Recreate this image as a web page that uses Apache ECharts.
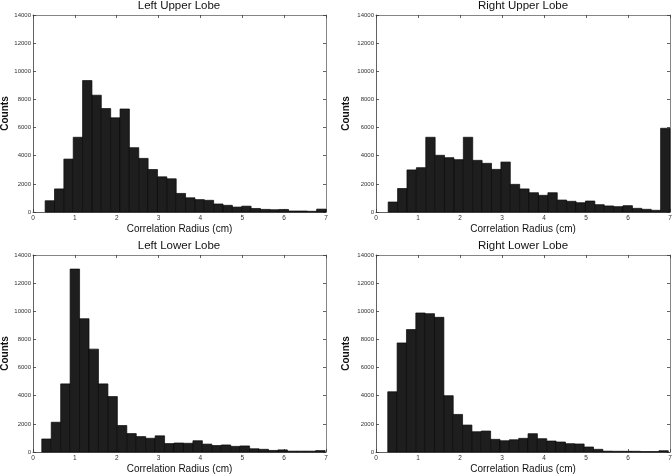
<!DOCTYPE html>
<html>
<head>
<meta charset="utf-8">
<script src="https://cdn.jsdelivr.net/npm/echarts@6/dist/echarts.min.js"></script>
<style>
  html, body { margin: 0; padding: 0; background: #fff; }
  #main { width: 672px; height: 476px; }
</style>
</head>
<body>
<div id="main"></div>
<script>
// 四个肺叶的相关半径直方图 (30 bins each)
const titles = ['Left Upper Lobe', 'Right Upper Lobe', 'Left Lower Lobe', 'Right Lower Lobe'];
const xTicks = [0, 1, 2, 3, 4, 5, 6, 7];
const yTicks = [0, 2000, 4000, 6000, 8000, 10000, 12000, 14000];

// histogram range [first edge, last edge] per lobe
const lulRange = [0.29, 7.0];
const rulRange = [0.29, 7.0];
const lllRange = [0.21, 6.98];
const rllRange = [0.28, 6.96];

const lulCounts = [800, 1640, 3760, 5310, 9340, 8300, 7350, 6690, 7320, 4570, 3810, 3020, 2500, 2360, 1320,
  1010, 880, 830, 570, 475, 350, 415, 250, 185, 160, 180, 70, 70, 50, 205];
const rulCounts = [710, 1670, 2990, 3150, 5310, 4030, 3860, 3720, 5310, 3670, 3460, 3030, 3550, 1965, 1640,
  1370, 1185, 1370, 850, 760, 660, 780, 520, 430, 380, 450, 260, 190, 120, 5950];
const lllCounts = [925, 2115, 4840, 13000, 9470, 7310, 4840, 3940, 1880, 1310, 1095, 975, 1150, 600, 640,
  620, 800, 560, 460, 500, 400, 430, 230, 190, 110, 150, 60, 60, 60, 100];
const rllCounts = [4280, 7750, 8700, 9880, 9830, 9570, 4000, 2670, 1915, 1440, 1490, 900, 800, 870, 970,
  1300, 945, 780, 710, 590, 570, 355, 190, 60, 50, 50, 50, 30, 30, 90];

const ranges = [lulRange, rulRange, lllRange, rllRange];
const counts = [lulCounts, rulCounts, lllCounts, rllCounts];

const chart = echarts.init(document.getElementById('main'), null, { renderer: 'canvas' });

const font = "'Liberation Sans', Arial, Helvetica, sans-serif";
const frame = '#3a3a3a';

// panel positions
const panels = [
  { left: 33, top: 15, width: 293, height: 197, cx: 179, ty: 0, ng: 22 },
  { left: 376, top: 15, width: 294, height: 197, cx: 523, ty: 0, ng: 25 },
  { left: 33, top: 255, width: 293, height: 197, cx: 179, ty: 240, ng: 22 },
  { left: 376, top: 255, width: 294, height: 197, cx: 523, ty: 240, ng: 25 }
];

// turn a range + counts into [x0, x1, count] bins
function toBins(range, vals) {
  const w = (range[1] - range[0]) / vals.length;
  return vals.map((v, i) => [range[0] + i * w, range[0] + (i + 1) * w, v]);
}

function renderBar(params, api) {
  const p0 = api.coord([api.value(0), api.value(2)]);
  const p1 = api.coord([api.value(1), 0]);
  return {
    type: 'rect',
    shape: { x: p0[0], y: p0[1], width: p1[0] - p0[0], height: p1[1] - p0[1] },
    style: { fill: '#1e1e1e', stroke: '#080808', lineWidth: 0.7 }
  };
}

const grid = [], xAxis = [], yAxis = [], series = [], title = [];

panels.forEach((p, i) => {
  grid.push({
    left: p.left, top: p.top, width: p.width, height: p.height, show: false,
    containLabel: false, outerBoundsMode: 'none'
  });
  title.push({
    text: titles[i], left: p.cx, top: p.ty, textAlign: 'center', padding: 0,
    textStyle: { fontFamily: font, fontSize: 11.5, fontWeight: 'normal', color: '#111' }
  });
  const tickStyle = { show: true, inside: true, length: 3, lineStyle: { color: frame, width: 0.8 } };
  xAxis.push({
    gridIndex: i, type: 'value', min: xTicks[0], max: xTicks[xTicks.length - 1], interval: 1,
    name: 'Correlation Radius (cm)', nameLocation: 'middle', nameGap: 12,
    nameTextStyle: { fontFamily: font, fontSize: 10, color: '#111' },
    axisLine: { show: true, onZero: false, lineStyle: { color: frame, width: 0.8 } },
    axisTick: tickStyle,
    axisLabel: { fontFamily: font, fontSize: 6.5, color: '#333', margin: 3 },
    splitLine: { show: false }
  });
  xAxis.push({
    gridIndex: i, type: 'value', position: 'top', min: xTicks[0], max: xTicks[xTicks.length - 1], interval: 1,
    axisLine: { show: true, onZero: false, lineStyle: { color: '#666', width: 0.8 } },
    axisTick: tickStyle, axisLabel: { show: false }, splitLine: { show: false }
  });
  yAxis.push({
    gridIndex: i, type: 'value', min: yTicks[0], max: yTicks[yTicks.length - 1], interval: 2000,
    name: 'Counts', nameLocation: 'middle', nameGap: p.ng,
    nameTextStyle: { fontFamily: font, fontSize: 10, fontWeight: 'bold', color: '#111' },
    axisLine: { show: true, onZero: false, lineStyle: { color: frame, width: 0.8 } },
    axisTick: tickStyle,
    axisLabel: { fontFamily: font, fontSize: 6, color: '#333', margin: 2, formatter: v => String(v) },
    splitLine: { show: false }
  });
  yAxis.push({
    gridIndex: i, type: 'value', position: 'right', min: yTicks[0], max: yTicks[yTicks.length - 1], interval: 2000,
    axisLine: { show: true, onZero: false, lineStyle: { color: '#666', width: 0.8 } },
    axisTick: tickStyle, axisLabel: { show: false }, splitLine: { show: false }
  });
  series.push({
    type: 'custom',
    xAxisIndex: i * 2, yAxisIndex: i * 2,
    renderItem: renderBar,
    encode: { x: [0, 1], y: 2 },
    data: toBins(ranges[i], counts[i]),
    silent: true
  });
});

chart.setOption({
  animation: false,
  backgroundColor: '#fff',
  title: title,
  grid: grid,
  xAxis: xAxis,
  yAxis: yAxis,
  series: series
});
</script>
</body>
</html>
